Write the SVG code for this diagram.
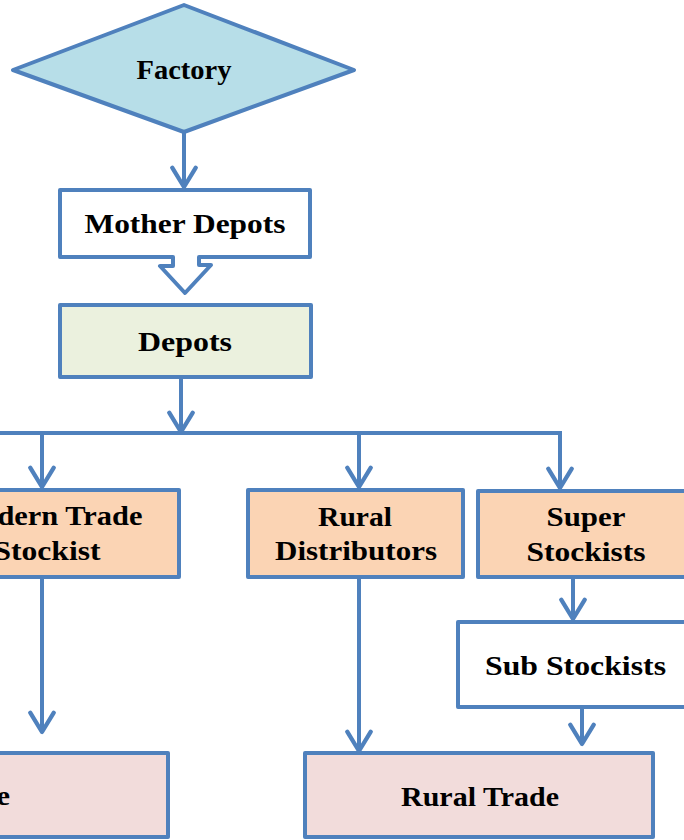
<svg xmlns="http://www.w3.org/2000/svg" width="684" height="840" viewBox="0 0 684 840">
<style>
.sh{stroke:#4f81bd;stroke-width:4;stroke-linejoin:round}
.lbl{font-family:"Liberation Serif","Times New Roman",serif;font-weight:bold;font-size:28px;fill:#000;text-anchor:middle}
.con{fill:none;stroke:#4f81bd;stroke-width:4;marker-end:url(#chev)}
</style>
<defs>
<marker id="chev" markerUnits="userSpaceOnUse" markerWidth="30" markerHeight="30" viewBox="-24 -14 28 28" refX="0" refY="0" orient="auto">
<path d="M-18,-11 L0,0 L-18,11" fill="none" stroke="#4f81bd" stroke-width="4" stroke-linecap="round" stroke-linejoin="round"/>
</marker>
</defs>
<rect width="684" height="840" fill="#fff"/>
<g id="connectors">
<path class="con" d="M184,132 V187"/>
<path class="con" d="M181,377 V432"/>
<path class="con" d="M-10,433 H560 V488"/>
<path class="con" d="M42,433 V487"/>
<path class="con" d="M359,433 V487"/>
<path class="con" d="M42,577 V732"/>
<path class="con" d="M359,577 V751"/>
<path class="con" d="M573,577 V619"/>
<path class="con" d="M582,707 V744"/>
</g>
<g id="factory">
<polygon class="sh" points="184,5 354,70 184,132 13,70" fill="#b7dee8"/>
<text class="lbl" x="184" y="79" textLength="95" lengthAdjust="spacingAndGlyphs">Factory</text>
</g>
<g id="mother-depots">
<path class="sh" d="M60,190 H310 V257 H199 V265 H211 L185,293 L160,266 H173 V257 H60 Z" fill="#fff"/>
<text class="lbl" x="185" y="233" textLength="201" lengthAdjust="spacingAndGlyphs">Mother Depots</text>
</g>
<g id="depots">
<rect class="sh" x="60" y="305" width="251" height="72" fill="#ebf1de"/>
<text class="lbl" x="185" y="351" textLength="94" lengthAdjust="spacingAndGlyphs">Depots</text>
</g>
<g id="modern-trade-stockist">
<rect class="sh" x="-85" y="490" width="264" height="87" fill="#fbd4b4"/>
<text class="lbl" x="48" y="525" textLength="189" lengthAdjust="spacingAndGlyphs">Modern Trade</text>
<text class="lbl" x="47" y="560" textLength="107" lengthAdjust="spacingAndGlyphs">Stockist</text>
</g>
<g id="rural-distributors">
<rect class="sh" x="248" y="490" width="215" height="87" fill="#fbd4b4"/>
<text class="lbl" x="355" y="526" textLength="74" lengthAdjust="spacingAndGlyphs">Rural</text>
<text class="lbl" x="356" y="560" textLength="162" lengthAdjust="spacingAndGlyphs">Distributors</text>
</g>
<g id="super-stockists">
<rect class="sh" x="478" y="491" width="215" height="86" fill="#fbd4b4"/>
<text class="lbl" x="586" y="526" textLength="79" lengthAdjust="spacingAndGlyphs">Super</text>
<text class="lbl" x="586" y="561" textLength="119" lengthAdjust="spacingAndGlyphs">Stockists</text>
</g>
<g id="sub-stockists">
<rect class="sh" x="458" y="622" width="235" height="85" fill="#fff"/>
<text class="lbl" x="575.5" y="675" textLength="181" lengthAdjust="spacingAndGlyphs">Sub Stockists</text>
</g>
<g id="modern-trade">
<rect class="sh" x="-200" y="753" width="368" height="84" fill="#f2dcdb"/>
<text class="lbl" x="10" y="805" style="text-anchor:end" textLength="189" lengthAdjust="spacingAndGlyphs">Modern Trade</text>
</g>
<g id="rural-trade">
<rect class="sh" x="305" y="753" width="348" height="84" fill="#f2dcdb"/>
<text class="lbl" x="480" y="806" textLength="158" lengthAdjust="spacingAndGlyphs">Rural Trade</text>
</g>
</svg>
